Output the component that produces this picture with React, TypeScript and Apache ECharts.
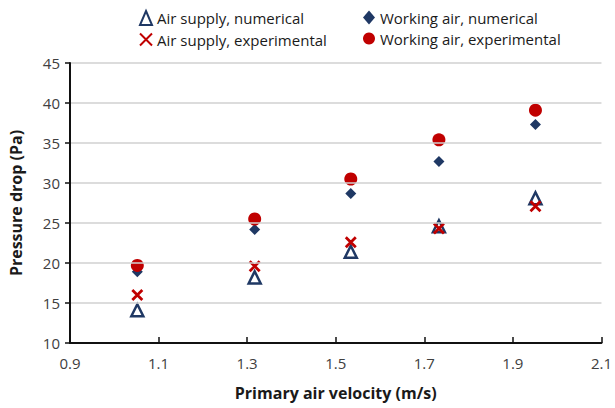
import React, { useEffect, useRef } from "react";
import * as echarts from "echarts";

const velocity = [1.052, 1.317, 1.534, 1.733, 1.951];
const airSupplyNumerical = [14.1, 18.2, 21.4, 24.6, 28.1];
const airSupplyExperimental = [16.0, 19.6, 22.6, 24.3, 27.1];
const workingAirNumerical = [18.9, 24.2, 28.7, 32.7, 37.3];
const workingAirExperimental = [19.7, 25.5, 30.5, 35.4, 39.1];

const seriesNames = [
  "Air supply, numerical",
  "Air supply, experimental",
  "Working air, numerical",
  "Working air, experimental",
];

const NAVY = "#1F3864";
const RED = "#C00000";
const FONT = "Open Sans";

const pairs = (ys: number[]) => velocity.map((x, i) => [x, ys[i]]);

export default function App() {
  const ref = useRef<HTMLDivElement>(null);
  useEffect(() => {
    if (!ref.current) return;
    const chart = echarts.init(ref.current, undefined, { renderer: "svg" });
    const xPath = "path://M0,0L10,10M10,0L0,10";
    const legendText = { fontFamily: FONT, fontSize: 15, color: "#1a1a1a" };
    chart.setOption({
      animation: false,
      textStyle: { fontFamily: FONT },
      grid: { left: 68, right: 10, top: 63, bottom: 65, containLabel: false },
      legend: [
        {
          data: [seriesNames[0], seriesNames[1]],
          orient: "vertical",
          left: 134,
          top: 5,
          itemGap: 6,
          itemWidth: 12,
          itemHeight: 14,
          textStyle: legendText,
        },
        {
          data: [seriesNames[2], seriesNames[3]],
          orient: "vertical",
          left: 358,
          top: 5,
          itemGap: 6,
          itemWidth: 12,
          itemHeight: 14,
          textStyle: legendText,
        },
      ],
      xAxis: {
        type: "value",
        min: 0.9,
        max: 2.1,
        interval: 0.2,
        position: "bottom",
        name: "Primary air velocity (m/s)",
        nameLocation: "middle",
        nameGap: 42,
        nameTextStyle: { fontFamily: FONT, fontSize: 16, fontWeight: "bold", color: "#1a1a1a" },
        axisLine: { show: true, onZero: false, lineStyle: { color: "#111", width: 2, opacity: 1 } },
        axisTick: { show: true, inside: true, length: 6, lineStyle: { color: "#111", width: 1.5 } },
        axisLabel: {
          fontFamily: FONT,
          fontSize: 15,
          color: "#404040",
          margin: 12,
          formatter: (v: number) => v.toFixed(1),
        },
        splitLine: { show: false },
        z: 10,
      },
      yAxis: {
        type: "value",
        min: 10,
        max: 45,
        interval: 5,
        position: "left",
        name: "Pressure drop (Pa)",
        nameLocation: "middle",
        nameGap: 46,
        nameTextStyle: { fontFamily: FONT, fontSize: 16, fontWeight: "bold", color: "#1a1a1a" },
        axisLine: { show: true, onZero: false, lineStyle: { color: "#111", width: 2, opacity: 1 } },
        axisTick: { show: true, inside: false, length: 5, lineStyle: { color: "#111", width: 1.5 } },
        axisLabel: { fontFamily: FONT, fontSize: 15, color: "#404040", margin: 10 },
        splitLine: { show: true, lineStyle: { color: "#D0D0D0", width: 1.5 } },
        z: 10,
      },
      series: [
        {
          name: seriesNames[0],
          type: "scatter",
          data: pairs(airSupplyNumerical),
          symbol: "triangle",
          symbolSize: 12,
          itemStyle: { color: "#fff", borderColor: NAVY, borderWidth: 2.5, opacity: 1 },
          z: 2,
        },
        {
          name: seriesNames[1],
          type: "scatter",
          data: pairs(airSupplyExperimental),
          symbol: xPath,
          symbolSize: 10,
          itemStyle: { color: "rgba(0,0,0,0)", borderColor: RED, borderWidth: 2.8, opacity: 1 },
          z: 3,
        },
        {
          name: seriesNames[2],
          type: "scatter",
          data: pairs(workingAirNumerical),
          symbol: "diamond",
          symbolSize: 11,
          itemStyle: { color: NAVY, opacity: 1 },
          z: 2,
        },
        {
          name: seriesNames[3],
          type: "scatter",
          data: pairs(workingAirExperimental),
          symbol: "circle",
          symbolSize: 13,
          itemStyle: { color: RED, opacity: 1 },
          z: 3,
        },
      ],
    });
    return () => chart.dispose();
  }, []);
  return <div ref={ref} style={{ width: 615, height: 408, position: "absolute", left: 0, top: 0 }} />;
}
